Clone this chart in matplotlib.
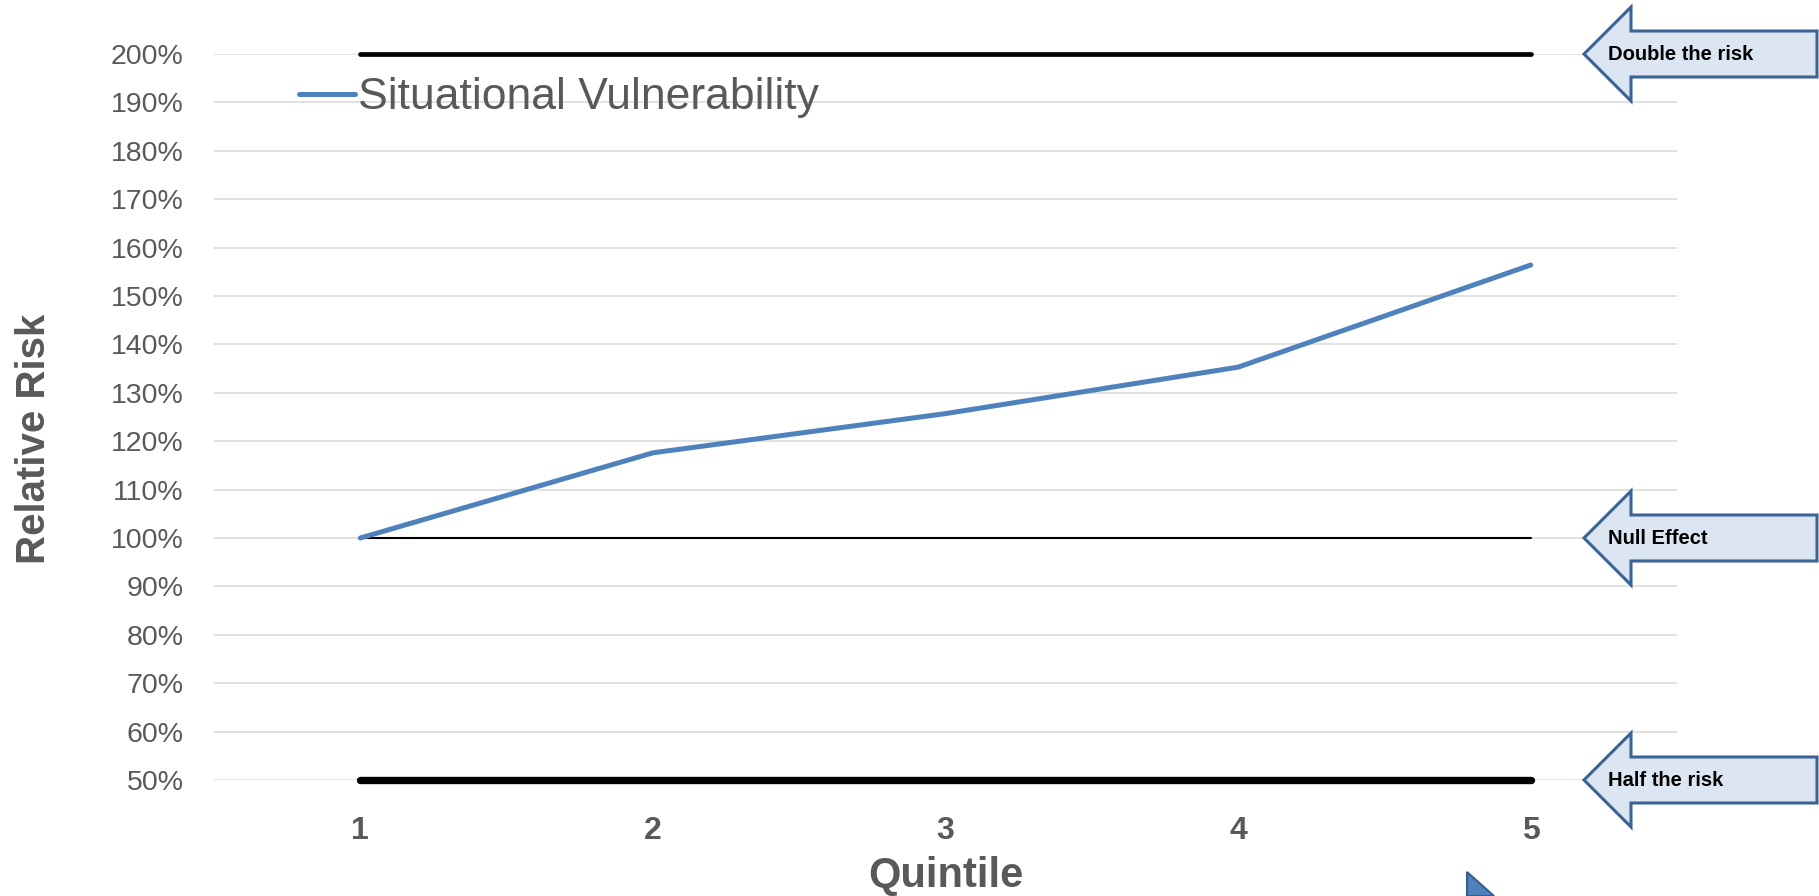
import matplotlib
matplotlib.use("Agg")
import matplotlib.pyplot as plt
import numpy as np
from matplotlib.patches import Polygon
from matplotlib.transforms import IdentityTransform

plt.rcdefaults()
plt.rcParams['font.family'] = ['Liberation Sans', 'DejaVu Sans']

# data
quintiles = [1, 2, 3, 4, 5]
vulnerability = [100, 117.6, 125.7, 135.3, 156.4]   # relative risk, %
double_risk = [200, 200, 200, 200, 200]
null_effect = [100, 100, 100, 100, 100]
half_risk = [50, 50, 50, 50, 50]
y_ticks = list(range(50, 201, 10))
ref_labels = ["Double the risk", "Null Effect", "Half the risk"]
ref_values = [200, 100, 50]

GREY = "#595959"
BLUE = "#4F81BD"

W, H = 1819, 896
fig = plt.figure(figsize=(W / 100, H / 100), dpi=100)
ax = fig.add_axes([214 / W, 1 - 780 / H, (1677 - 214) / W, (780 - 54) / H])

ax.plot(quintiles, double_risk, color="k", lw=3.4, solid_capstyle="round",
        clip_on=False, zorder=3, label="_nolegend_")
ax.plot(quintiles, null_effect, color="k", lw=1.5, solid_capstyle="round",
        clip_on=False, zorder=3, label="_nolegend_")
ax.plot(quintiles, half_risk, color="k", lw=5.3, solid_capstyle="round",
        clip_on=False, zorder=3, label="_nolegend_")
ax.plot(quintiles, vulnerability, color=BLUE, lw=3.6, solid_capstyle="round",
        clip_on=False, zorder=4, label="Situational Vulnerability")

ax.set_xlim(0.5, 5.5)
ax.set_ylim(50, 200)
ax.set_xticks(quintiles)
ax.set_xticklabels([str(q) for q in quintiles], fontweight="bold", fontsize=23)
ax.set_yticks(y_ticks)
ax.set_yticklabels(["{}%".format(t) for t in y_ticks], fontsize=20.5)
ax.tick_params(axis="both", length=0, labelcolor=GREY)
ax.tick_params(axis="y", pad=22)
ax.tick_params(axis="x", pad=26)
ax.grid(axis="y", color="#D9D9D9", lw=1.1, zorder=0)
ax.set_axisbelow(True)
for s in ax.spines.values():
    s.set_visible(False)

ax.set_xlabel("Quintile", fontsize=30, fontweight="bold", color=GREY)
ax.xaxis.set_label_coords(0.5, -0.104)
ax.set_ylabel("Relative Risk", fontsize=29, fontweight="bold", color=GREY)
ax.yaxis.set_label_coords(-0.110, 0.47)

ax.legend(loc="center left", bbox_to_anchor=(299 / W, 1 - 98 / H),
          bbox_transform=fig.transFigure, frameon=False, fontsize=32,
          handlelength=1.25, handletextpad=0.08, borderpad=0,
          borderaxespad=0, labelcolor=GREY)

# block arrows pointing at the reference lines
tip_x = 1584
right_x = 1817
for label, val in zip(ref_labels, ref_values):
    tip_y = ax.transData.transform((1, val))[1]
    verts = [(tip_x, tip_y), (tip_x + 47, tip_y + 47), (tip_x + 47, tip_y + 23),
             (right_x, tip_y + 23), (right_x, tip_y - 23),
             (tip_x + 47, tip_y - 23), (tip_x + 47, tip_y - 47)]
    fig.add_artist(Polygon(verts, closed=True, transform=IdentityTransform(),
                           facecolor="#DCE6F2", edgecolor="#3B6396", lw=2.2,
                           joinstyle="miter"))
    fig.text(tip_x + 24, tip_y, label, transform=IdentityTransform(),
             fontsize=14.5, fontweight="bold", color="k", va="center", ha="left")

# cut-off shape at bottom edge
fig.add_artist(Polygon([(1467 / W, 1 - 872 / H), (1467 / W, 0), (1494 / W, 0)],
                       closed=True, transform=fig.transFigure,
                       facecolor=BLUE, edgecolor="#385D8A", lw=1.5))

fig.savefig("out.png", dpi=100)
